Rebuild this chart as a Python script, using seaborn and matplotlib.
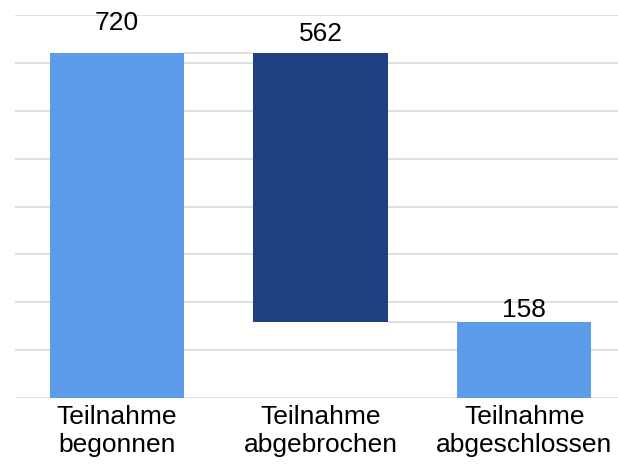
import matplotlib
matplotlib.use("Agg")
import matplotlib.pyplot as plt
import seaborn as sns
import pandas as pd

categories = ["Teilnahme\nbegonnen", "Teilnahme\nabgebrochen", "Teilnahme\nabgeschlossen"]
values = [720, 562, 158]
bases = [0, 158, 0]
bar_colors = ["#5C9CEA", "#1F4083", "#5C9CEA"]
label_offsets_pt = [17, 9, 4]

sns.set_theme(style="white")
plt.rcParams["font.family"] = ["Liberation Sans", "DejaVu Sans"]

df = pd.DataFrame({"cat": categories, "val": values})

fig = plt.figure(figsize=(6.18, 4.66), dpi=100)
ax = fig.add_axes([15 / 618, 1 - 398 / 466, 611 / 618, (398 - 15) / 466])

sns.barplot(data=df, x="cat", y="val", hue="cat", palette=bar_colors,
            legend=False, width=0.66, ax=ax, zorder=3, linewidth=0,
            saturation=1)

patches = ax.patches[:len(values)]
for p, b in zip(patches, bases):
    p.set_y(b)

# connectors
for i in range(len(patches) - 1):
    p1, p2 = patches[i], patches[i + 1]
    y = p1.get_y() + p1.get_height() if i == 0 else p1.get_y()
    ax.plot([p1.get_x() + p1.get_width(), p2.get_x()], [y, y],
            color="#D9D9D9", lw=1.2, zorder=2)

for p, v, off in zip(patches, values, label_offsets_pt):
    ax.annotate(str(v), (p.get_x() + p.get_width() / 2, p.get_y() + p.get_height()),
                xytext=(0, off), textcoords="offset points",
                ha="center", va="baseline", fontsize=19, color="black", zorder=5)

ax.set_ylim(0, 800)
ax.set_xlim(-0.5, 2.5)
ax.set_yticks(range(0, 801, 100))
ax.set_yticklabels([])
ax.yaxis.grid(True, color="#D9D9D9", lw=1.2, zorder=0)
ax.set_axisbelow(True)
ax.set_xlabel("")
ax.set_ylabel("")
ax.tick_params(axis="x", length=0, pad=5, labelsize=19, colors="black")
ax.tick_params(axis="y", length=0)
for s in ax.spines.values():
    s.set_visible(False)

fig.savefig("out.png", dpi=100)
